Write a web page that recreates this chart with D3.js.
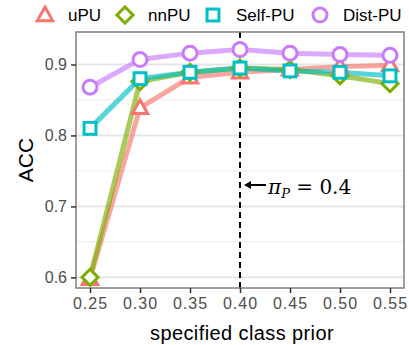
<!DOCTYPE html>
<html>
<head>
<meta charset="utf-8">
<script src="https://cdn.jsdelivr.net/npm/d3@7"></script>
<style>
  body { margin: 0; background: #fff; }
  svg { font-family: "Liberation Sans", Arial, sans-serif; }
</style>
</head>
<body>
<div id="chart"></div>
<script>
// data
const priors = [0.25, 0.30, 0.35, 0.40, 0.45, 0.50, 0.55];
const uPU = [0.598, 0.839, 0.882, 0.889, 0.893, 0.897, 0.899];
const nnPU = [0.600, 0.876, 0.889, 0.895, 0.893, 0.884, 0.873];
const selfPU = [0.810, 0.880, 0.889, 0.895, 0.891, 0.889, 0.884];
const distPU = [0.868, 0.907, 0.916, 0.921, 0.916, 0.914, 0.913];
const xTicks = ["0.25", "0.30", "0.35", "0.40", "0.45", "0.50", "0.55"];
const yTicks = [0.6, 0.7, 0.8, 0.9];
const truePrior = 0.4;

const series = [
  {name: "uPU", values: uPU, clr: "#F8766D", shape: "triangle"},
  {name: "nnPU", values: nnPU, clr: "#7CAE00", shape: "diamond"},
  {name: "Self-PU", values: selfPU, clr: "#00BFC4", shape: "square"},
  {name: "Dist-PU", values: distPU, clr: "#C77CFF", shape: "circle"}
];

const W = 409, H = 345;
const margin = {top: 32, right: 5, bottom: 57, left: 76};
const width = W - margin.left - margin.right;
const height = H - margin.top - margin.bottom;

const root = d3.select("#chart").append("svg")
  .attr("width", W).attr("height", H);
const svg = root.append("g")
  .attr("transform", `translate(${margin.left},${margin.top})`);

const xScale = d3.scaleLinear().domain([0.236, 0.564]).range([0, width]);
const yScale = d3.scaleLinear().domain([0.585, 0.9458]).range([height, 0]);

// grid
const minor = [0.65, 0.75, 0.85];
svg.selectAll(".gmin").data(minor).enter().append("line")
  .attr("x1", 0).attr("x2", width)
  .attr("y1", d => yScale(d)).attr("y2", d => yScale(d))
  .attr("stroke", "#EBEBEB").attr("stroke-width", 1);
svg.selectAll(".gmaj").data(yTicks).enter().append("line")
  .attr("x1", 0).attr("x2", width)
  .attr("y1", d => yScale(d)).attr("y2", d => yScale(d))
  .attr("stroke", "#E5E5E5").attr("stroke-width", 2);

// dashed line for true prior
svg.append("line")
  .attr("x1", xScale(truePrior)).attr("x2", xScale(truePrior))
  .attr("y1", 0).attr("y2", height)
  .attr("stroke", "#000").attr("stroke-width", 2)
  .attr("stroke-dasharray", "6,4");

// lines
const line = d3.line().x((d, i) => xScale(priors[i])).y(d => yScale(d));
series.forEach(s => {
  svg.append("path").datum(s.values)
    .attr("d", line)
    .attr("fill", "none")
    .attr("stroke", s.clr)
    .attr("stroke-opacity", 0.65)
    .attr("stroke-width", 5);
});

// markers
function drawShape(g, shape, clr, r) {
  if (shape === "circle") {
    g.append("circle").attr("r", r).attr("fill", "white").attr("stroke", clr).attr("stroke-width", 3);
  } else if (shape === "square") {
    g.append("rect").attr("x", -r * 0.85).attr("y", -r * 0.85)
      .attr("width", r * 1.7).attr("height", r * 1.7)
      .attr("fill", "white").attr("stroke", clr).attr("stroke-width", 3);
  } else if (shape === "diamond") {
    const a = r * 1.15;
    g.append("path").attr("d", `M0,${-a}L${a},0L0,${a}L${-a},0Z`)
      .attr("fill", "white").attr("stroke", clr).attr("stroke-width", 3);
  } else {
    const a = r * 1.15;
    g.append("path").attr("d", `M0,${-a}L${a * 0.95},${a * 0.7}L${-a * 0.95},${a * 0.7}Z`)
      .attr("fill", "white").attr("stroke", clr).attr("stroke-width", 3);
  }
}
series.forEach(s => {
  s.values.forEach((v, i) => {
    const g = svg.append("g")
      .attr("transform", `translate(${xScale(priors[i])},${yScale(v)})`);
    drawShape(g, s.shape, s.clr, 7);
  });
});

// panel border
svg.append("rect").attr("width", width).attr("height", height)
  .attr("fill", "none").attr("stroke", "#7F7F7F").attr("stroke-width", 1.5);

// axes
const xAxis = svg.append("g").attr("transform", `translate(0,${height})`)
  .call(d3.axisBottom(xScale).tickValues(priors).tickFormat((d, i) => xTicks[i]).tickSize(5).tickPadding(5));
const yAxis = svg.append("g")
  .call(d3.axisLeft(yScale).tickValues(yTicks).tickFormat(d3.format(".1f")).tickSize(5).tickPadding(4));
[xAxis, yAxis].forEach(a => {
  a.select(".domain").remove();
  a.selectAll(".tick line").attr("stroke", "#333").attr("stroke-width", 1.5);
  a.selectAll(".tick text").attr("fill", "#4D4D4D").style("font-size", "16px")
    .style("font-family", "'Liberation Sans', Arial, sans-serif");
});
xAxis.selectAll(".tick text").style("letter-spacing", "1px");

// axis titles
root.append("text")
  .attr("x", margin.left + width / 2 + 2).attr("y", 340)
  .attr("text-anchor", "middle").style("font-size", "20px")
  .style("letter-spacing", "0.4px")
  .text("specified class prior");
root.append("text")
  .attr("transform", `translate(33,${margin.top + height / 2}) rotate(-90)`)
  .attr("text-anchor", "middle").style("font-size", "21px")
  .text("ACC");

// annotation
const ax = margin.left + xScale(truePrior);
root.append("line").attr("x1", ax + 26).attr("x2", ax + 8).attr("y1", 185).attr("y2", 185)
  .attr("stroke", "#000").attr("stroke-width", 2);
root.append("path").attr("d", `M${ax + 4},185L${ax + 11},181L${ax + 11},189Z`).attr("fill", "#000");
const ann = root.append("text").attr("x", ax + 28).attr("y", 194)
  .style("font-family", "'DejaVu Serif', serif").style("font-size", "20px");
ann.append("tspan").style("font-style", "italic").text("π");
ann.append("tspan").style("font-style", "italic").style("font-size", "13px").attr("dy", 4).text("P");
ann.append("tspan").attr("dy", -4).text(" = 0.4");

// legend
const legX = [45, 125, 213, 320];
series.forEach((s, i) => {
  const g = root.append("g").attr("transform", `translate(${legX[i]},15)`);
  drawShape(g, s.shape, s.clr, 7);
  root.append("text").attr("x", legX[i] + 23).attr("y", 21)
    .style("font-size", "17px").text(s.name);
});
</script>
</body>
</html>
